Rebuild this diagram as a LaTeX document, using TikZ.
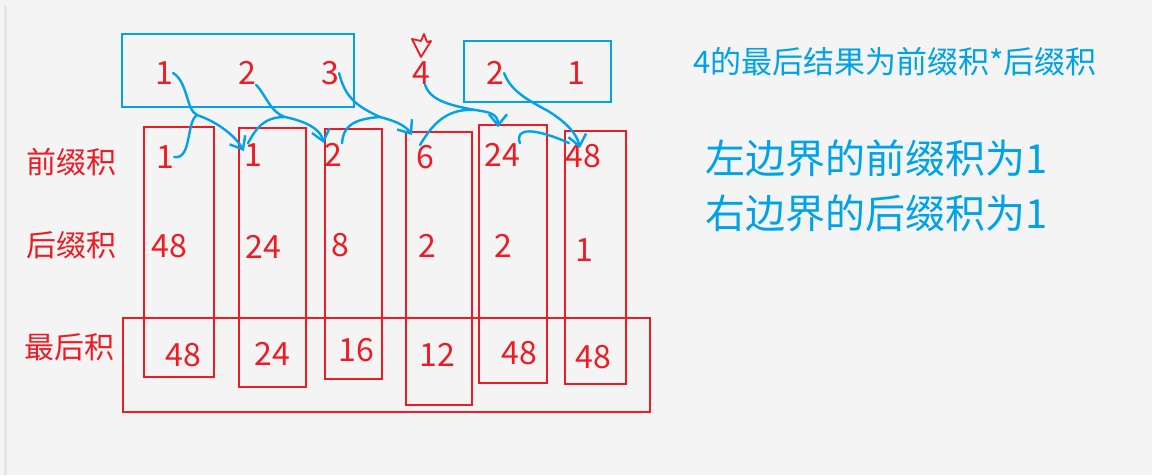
\documentclass[tikz,border=0pt]{standalone}
\usepackage{fontspec}
\setmainfont{Noto Sans CJK SC}
\usetikzlibrary{arrows.meta}
\definecolor{redz}{RGB}{237,28,36}
\definecolor{bluez}{RGB}{0,162,232}
\definecolor{bgz}{RGB}{244,244,244}
\tikzset{
  num/.style={text=redz, font=\fontsize{32}{36}\selectfont, inner sep=0pt},
  lbl/.style={text=redz, font=\fontsize{30}{36}\selectfont, inner sep=0pt},
  colbox/.style={draw=redz, line width=1.8pt},
  bluebox/.style={draw=bluez, line width=1.8pt},
  stroke/.style={draw=bluez, line width=2.4pt, line cap=round, line join=round},
  arr/.style={stroke, -{Straight Barb[length=11pt,width=18pt]}},
  note/.style={text=bluez, inner sep=0pt, anchor=west},
}
\begin{document}
\begin{tikzpicture}[x=1pt,y=-1pt]
\useasboundingbox (0,0) rectangle (1152,475);
\fill[bgz] (0,0) rectangle (1152,475);
\fill[black!10] (4,6) rectangle (7,475);

% blue boxes
\draw[bluebox] (122,34) rectangle (354,107);
\draw[bluebox] (464,41) rectangle (611,102);

% red column boxes
\draw[colbox] (144,127) rectangle (214,377);
\draw[colbox] (239,128) rectangle (306,387);
\draw[colbox] (325,129) rectangle (382,379);
\draw[colbox] (406,132) rectangle (472,405);
\draw[colbox] (479,125) rectangle (547,383);
\draw[colbox] (565,131) rectangle (626,384);
\draw[colbox] (123,318) rectangle (650,412);

% marker above 4
\draw[draw=redz, line width=1.8pt, line join=round]
  (412,39) -- (421,57) -- (431,41) -- (427,42) -- (424,34) -- (421,41) -- cycle;

% row labels
\node[lbl] (l1) at (72,162) {前缀积};
\node[lbl] (l2) at (72,245) {后缀积};
\node[lbl] (l3) at (69,347) {最后积};

% top numbers
\node[num] (t1) at (164,73) {1};
\node[num] (t2) at (247,73) {2};
\node[num] (t3) at (330,73) {3};
\node[num] (t4) at (421,73) {4};
\node[num] (t5) at (495,73) {2};
\node[num] (t6) at (576,73) {1};

% prefix products
\node[num] (p1) at (165,157) {1};
\node[num] (p2) at (253,155) {1};
\node[num] (p3) at (333,155) {2};
\node[num] (p4) at (425,157) {6};
\node[num] (p5) at (502,155) {24};
\node[num] (p6) at (583,156) {48};

% suffix products
\node[num] (s1) at (169,246) {48};
\node[num] (s2) at (263,247) {24};
\node[num] (s3) at (340,245) {8};
\node[num] (s4) at (427,246) {2};
\node[num] (s5) at (503,246) {2};
\node[num] (s6) at (584,250) {1};

% final products
\node[num] (f1) at (183,355) {48};
\node[num] (f2) at (272,354) {24};
\node[num] (f3) at (356,350) {16};
\node[num] (f4) at (437,355) {12};
\node[num] (f5) at (519,353) {48};
\node[num] (f6) at (593,357) {48};

% merge points
\coordinate (m1) at (197,115);
\coordinate (m2) at (285,117);
\coordinate (m3) at (380,117);
\coordinate (m4) at (475,110);
\coordinate (m5) at (569,143);

% hand-drawn arrows
\draw[arr] (t1.east) .. controls (188,82) and (186,110) .. (m1)
  .. controls (215,121) and (234,134) .. ([yshift=4pt]p2.west);
\draw[stroke] (p1.east) .. controls (192,160) and (186,122) .. (m1);

\draw[arr] (t2.south east) .. controls (266,95) and (270,112) .. (m2)
  .. controls (304,121) and (320,128) .. (p3.north west);
\draw[stroke] ([xshift=-5pt]p2.north) .. controls (256,128) and (264,117) .. (m2);

\draw[arr] (t3.east) .. controls (345,97) and (356,106) .. (m3)
  .. controls (395,121) and (405,125) .. ([shift={(-4pt,10pt)}]p4.north west);
\draw[stroke] (p3.north east) .. controls (343,127) and (352,119) .. (m3);

\draw[arr] ([xshift=4pt]t4.south) .. controls (430,100) and (448,105) .. (m4)
  .. controls (490,112) and (498,114) .. ([shift={(-4pt,16pt)}]p5.north);
\draw[stroke] ([xshift=-5pt]p4.north) .. controls (432,125) and (446,108) .. (m4);

\draw[arr] (t5.east) .. controls (511,92) and (530,101) .. (548,111)
  .. controls (566,122) and (577,134) .. ([shift={(-3pt,-4pt)}]p6.north);
\draw[stroke] (p5.north east) .. controls (514,127) and (535,128) .. (m5);

% notes
\node[note, font=\fontsize{31}{36}\selectfont] (n1) at (693,62) {4的最后结果为前缀积*后缀积};
\node[note, font=\fontsize{40}{48}\selectfont] (n2) at (705,158) {左边界的前缀积为1};
\node[note, font=\fontsize{40}{48}\selectfont] (n3) at (705,213) {右边界的后缀积为1};
\end{tikzpicture}
\end{document}
